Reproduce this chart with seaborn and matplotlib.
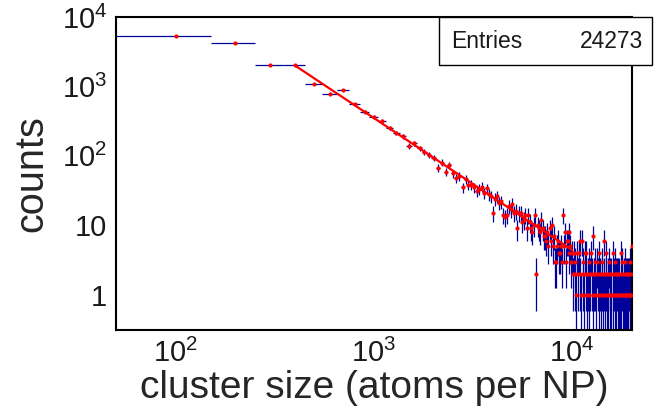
import numpy as np
import matplotlib
matplotlib.use("Agg")
import matplotlib.pyplot as plt
import matplotlib.ticker as mticker
from matplotlib.patches import Rectangle
import seaborn as sns

# histogram: 200 bins of width 100 starting at 50
bin_lo = 50
bin_width = 100
counts = [
    5330, 4230, 2030, 2050, 1090, 790, 880, 560, 430, 368,
    322, 250, 216, 190, 139, 152, 128, 115, 103, 94,
    67, 80, 59, 74, 56, 48, 51, 35, 46, 38,
    38, 35, 31, 33, 36, 29, 34, 28, 26, 15,
    24, 26, 21, 22, 14, 13, 14, 19, 17, 20,
    15, 16, 9, 15, 15, 11, 12, 14, 9, 14,
    11, 9, 8, 10, 14, 2, 10, 9, 8, 12,
    9, 7, 7, 6, 8, 5, 9, 6, 10, 5,
    7, 3, 3, 5, 6, 4, 4, 5, 3, 14,
    5, 8, 3, 6, 6, 4, 8, 5, 3, 4,
    2, 4, 3, 2, 1, 4, 2, 4, 2, 6,
    1, 6, 3, 2, 1, 4, 2, 4, 1, 2,
    3, 1, 2, 4, 0, 2, 7, 1, 2, 3,
    2, 1, 0, 3, 2, 4, 1, 2, 0, 1,
    2, 3, 1, 2, 6, 1, 0, 2, 4, 1,
    2, 1, 3, 0, 2, 1, 1, 2, 0, 4,
    1, 2, 0, 3, 1, 2, 1, 0, 2, 1,
    2, 1, 2, 0, 1, 4, 1, 2, 3, 1,
    0, 2, 1, 3, 1, 2, 0, 1, 2, 1,
    2, 1, 0, 2, 1, 3, 1, 2, 1, 5,
]
entries = 24273

# power-law fit, drawn between its end points
fit_x = [400, 10000]
fit_y = [2000, 4.4]

x_ticks = [1e2, 1e3, 1e4]
x_ticklabels = [r"$10^{2}$", r"$10^{3}$", r"$10^{4}$"]
y_ticks = [1, 10, 100, 1000, 10000]
y_ticklabels = ["1", "10", r"$10^{2}$", r"$10^{3}$", r"$10^{4}$"]

sns.set_style("white")
plt.rcParams["font.family"] = ["Liberation Sans", "DejaVu Sans"]
plt.rcParams["mathtext.fontset"] = "custom"
plt.rcParams["mathtext.rm"] = "Liberation Sans"
plt.rcParams["mathtext.it"] = "Liberation Sans:italic"
plt.rcParams["mathtext.bf"] = "Liberation Sans:bold"
plt.rcParams["mathtext.default"] = "regular"
plt.rcParams["text.color"] = "#1a1a1a"

counts = np.array(counts, dtype=float)
centers = bin_lo + bin_width * (np.arange(len(counts)) + 0.5)
filled = counts > 0

fig = plt.figure(figsize=(6.61, 4.2), dpi=100)
ax = fig.add_axes([116 / 661, 1 - 330 / 420, (632 - 116) / 661, (330 - 17) / 420])
ax.set_xscale("log")
ax.set_yscale("log")

ax.errorbar(centers[filled], counts[filled], xerr=bin_width / 2,
            yerr=np.sqrt(counts[filled]), fmt="none", ecolor="#00009a",
            elinewidth=0.9, capsize=0, zorder=2)
sns.lineplot(x=fit_x, y=fit_y, color="red", linewidth=1.6, ax=ax, zorder=3)
sns.scatterplot(x=centers[filled], y=counts[filled], color="red", s=9,
                linewidth=0, marker="o", ax=ax, zorder=4)

ax.set_xlim(bin_lo, bin_lo + bin_width * len(counts))
ax.set_ylim(0.31, 1e4)

ax.xaxis.set_major_locator(mticker.FixedLocator(x_ticks))
ax.xaxis.set_major_formatter(mticker.FixedFormatter(x_ticklabels))
ax.yaxis.set_major_locator(mticker.FixedLocator(y_ticks))
ax.yaxis.set_major_formatter(mticker.FixedFormatter(y_ticklabels))
ax.xaxis.set_minor_locator(mticker.LogLocator(base=10, subs=np.arange(2, 10), numticks=20))
ax.yaxis.set_minor_locator(mticker.LogLocator(base=10, subs=np.arange(2, 10), numticks=20))
ax.xaxis.set_minor_formatter(mticker.NullFormatter())
ax.yaxis.set_minor_formatter(mticker.NullFormatter())

ax.tick_params(which="both", direction="in", top=False, right=False,
               colors="black", labelcolor="#1a1a1a", labelsize=21, width=1)
ax.tick_params(axis="y", which="major", length=11.3, pad=6.5)
ax.tick_params(axis="y", which="minor", length=5.7)
ax.tick_params(axis="x", which="major", length=6.8, pad=6)
ax.tick_params(axis="x", which="minor", length=3.4)

for sp in ax.spines.values():
    sp.set_linewidth(1.5)
    sp.set_color("black")

ax.set_xlabel("cluster size (atoms per NP)", fontsize=28, labelpad=2)
ax.set_ylabel("counts", fontsize=28.5, labelpad=8)

# stats box
fig.patches.append(Rectangle((439 / 661, 1 - 65 / 420), (652 - 439) / 661, 48 / 420,
                             transform=fig.transFigure, facecolor="white",
                             edgecolor="black", linewidth=1, zorder=10))
fig.text(451 / 661, 1 - 41 / 420, "Entries", fontsize=16.5, ha="left", va="center", zorder=11)
fig.text(643 / 661, 1 - 41 / 420, str(entries), fontsize=16.5, ha="right", va="center", zorder=11)

fig.savefig("out.png", dpi=100)
